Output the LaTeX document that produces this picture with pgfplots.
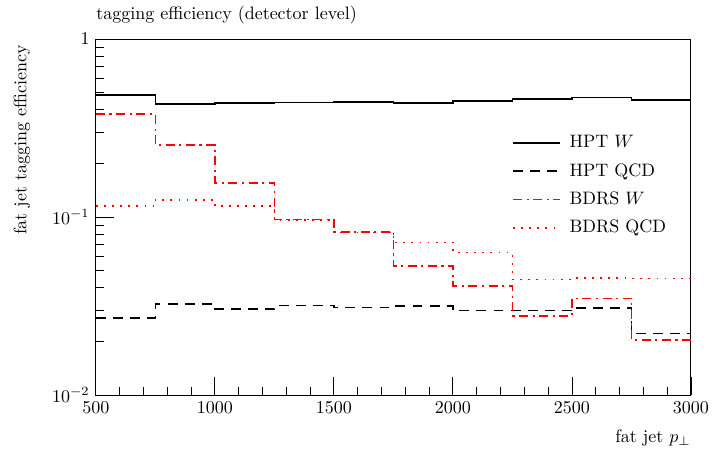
\documentclass[border=0pt]{standalone}
\usepackage{pgfplots}
\pgfplotsset{compat=1.18}
\begin{document}
\begin{tikzpicture}
\begin{axis}[
  at={(0,0)}, anchor=south west,
  scale only axis,
  width=330.6pt, height=197.8pt,
  xmin=500, xmax=3000,
  ymode=log, ymin=0.01, ymax=1,
  xtick={500,1000,1500,2000,2500,3000},
  minor x tick num=4,
  ytick={0.01,0.1,1},
  yticklabels={$10^{-2}$,$10^{-1}$,$1$},
  xtick pos=bottom, ytick pos=left,
  tick align=inside,
  major tick length=10pt, minor tick length=4.5pt,
  every tick/.style={black, line width=0.5pt},
  axis line style={line width=0.6pt},
  /pgf/number format/1000 sep={},
  title={tagging efficiency (detector level)},
  title style={at={(rel axis cs:0,1)}, anchor=base west, inner sep=0pt, yshift=5pt},
  xlabel={fat jet $p_\perp$},
  xlabel style={at={(rel axis cs:1,0)}, anchor=base east, inner sep=0pt, yshift=-26.5pt},
  ylabel={fat jet tagging efficiency},
  ylabel style={at={(rel axis cs:-0.1,1)}, anchor=south east},
  legend style={at={(rel axis cs:0.69,0.75)}, anchor=north west, draw=none, fill=none, row sep=3.2pt, column sep=3pt, font=\normalsize},
  legend cell align=left,
  legend image code/.code={\draw[#1, line width=0.9pt] (0pt,0pt) -- (26pt,0pt);},
  every axis plot/.append style={line width=0.9pt},
]
\addplot[black, const plot] coordinates {
 (500,0.485) (750,0.431) (1000,0.439) (1250,0.441) (1500,0.443) (1750,0.439)
 (2000,0.450) (2250,0.460) (2500,0.470) (2750,0.454) (3000,0.454)};
\addlegendentry{HPT $W$}
\addplot[black, const plot, dash pattern=on 5.5pt off 4pt] coordinates {
 (500,0.0272) (750,0.0325) (1000,0.0304) (1250,0.0318) (1500,0.0311) (1750,0.0316)
 (2000,0.0298) (2250,0.0298) (2500,0.0309) (2750,0.0222) (3000,0.0222)};
\addlegendentry{HPT QCD}
\addplot[red, const plot, dash pattern=on 5pt off 2.5pt on 1.2pt off 2.5pt] coordinates {
 (500,0.379) (750,0.254) (1000,0.155) (1250,0.0971) (1500,0.0822) (1750,0.0532)
 (2000,0.0411) (2250,0.0279) (2500,0.0349) (2750,0.0204) (3000,0.0204)};
\addlegendentry{BDRS $W$}
\addplot[red, const plot, dash pattern=on 1pt off 3.5pt] coordinates {
 (500,0.115) (750,0.125) (1000,0.115) (1250,0.096) (1500,0.082) (1750,0.0721)
 (2000,0.0633) (2250,0.0447) (2500,0.0453) (2750,0.0451) (3000,0.0451)};
\addlegendentry{BDRS QCD}
\end{axis}
\pgfresetboundingbox
\path (-53.3pt,-33.3pt) rectangle (343.4pt,219.5pt);
\end{tikzpicture}
\end{document}
